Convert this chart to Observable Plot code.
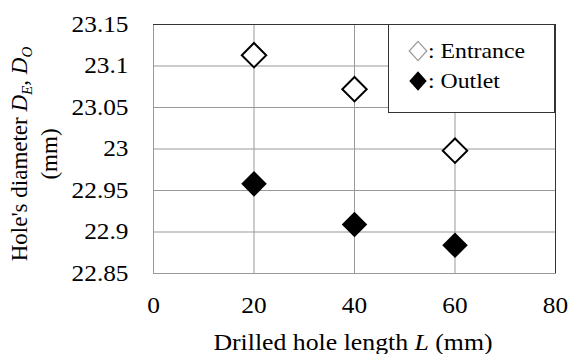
<!DOCTYPE html>
<html>
<head>
<meta charset="utf-8">
<script src="https://cdn.jsdelivr.net/npm/d3@7"></script>
<script src="https://cdn.jsdelivr.net/npm/@observablehq/plot@0.6"></script>
<style>
  html, body { margin: 0; padding: 0; background: white; }
  #chart { width: 570px; height: 354px; overflow: hidden; }
  #chart svg, #chart svg text, #chart svg tspan { font-family: "Liberation Serif", "DejaVu Serif", serif !important; }
</style>
</head>
<body>
<div id="chart"></div>
<script>
const lengths = [20, 40, 60];
const entrance = [23.113, 23.072, 22.998];
const outlet = [22.958, 22.909, 22.884];
const xTicks = [0, 20, 40, 60, 80];
const yTicks = [22.85, 22.9, 22.95, 23, 23.05, 23.1, 23.15];
const yTickLabels = ["22.85", "22.9", "22.95", "23", "23.05", "23.1", "23.15"];
const legendLabels = [": Entrance", ": Outlet"];

const entranceData = lengths.map((L, i) => ({L, D: entrance[i]}));
const outletData = lengths.map((L, i) => ({L, D: outlet[i]}));

const font = "Liberation Serif, DejaVu Serif, serif";

const plot = Plot.plot({
  width: 570,
  height: 354,
  marginLeft: 153,
  marginRight: 15,
  marginTop: 24,
  marginBottom: 81,
  style: {fontFamily: font, fontSize: "23px", color: "#000", background: "white"},
  x: {domain: [0, 80], ticks: xTicks, label: null, tickSize: 0, tickPadding: 23},
  y: {domain: [22.85, 23.15], ticks: yTicks, label: null, tickSize: 0, tickPadding: 25,
      tickFormat: d => yTickLabels[yTicks.indexOf(d)]},
  marks: [
    Plot.gridX(xTicks, {stroke: "#999", strokeOpacity: 1}),
    Plot.gridY(yTicks, {stroke: "#999", strokeOpacity: 1}),
    Plot.frame({stroke: "#999"}),
    Plot.ruleY([23.15], {stroke: "#333"}),
    Plot.ruleX([80], {stroke: "#333"}),
    Plot.dot(entranceData, {x: "L", y: "D", symbol: "diamond2", r: 11, stroke: "black", strokeWidth: 2, fill: "white"}),
    Plot.dot(outletData, {x: "L", y: "D", symbol: "diamond2", r: 11.5, fill: "black", stroke: "none"})
  ]
});

document.getElementById("chart").appendChild(plot);

const svg = d3.select(plot);

function stretch(sel, k) {
  sel.each(function() {
    const w = this.getComputedTextLength();
    if (w > 0) this.setAttribute("textLength", (w * k).toFixed(1)), this.setAttribute("lengthAdjust", "spacingAndGlyphs");
  });
}

// widen tick labels (reference glyphs are wider)
stretch(svg.selectAll("g[aria-label='x-axis tick label'] text, g[aria-label='y-axis tick label'] text"), 1.1);

// Legend
const lg = svg.append("g").attr("text-anchor", "start");
lg.append("rect").attr("x", 388.5).attr("y", 24.5).attr("width", 166).attr("height", 88)
  .attr("fill", "white").attr("stroke", "#333");
const diamond = d3.symbol(d3.symbolDiamond2, 215)();
lg.append("path").attr("d", diamond).attr("transform", "translate(418,51) scale(0.95,1.05)")
  .attr("fill", "white").attr("stroke", "#999").attr("stroke-width", 1.3);
lg.append("path").attr("d", diamond).attr("transform", "translate(418,81) scale(0.95,1.05)")
  .attr("fill", "black");
const lt1 = lg.append("text").attr("x", 428).attr("y", 58).attr("font-size", 22)
  .attr("fill", "#000").text(legendLabels[0]);
const lt2 = lg.append("text").attr("x", 428).attr("y", 88).attr("font-size", 22)
  .attr("fill", "#000").text(legendLabels[1]);
stretch(lt1, 1.08);
stretch(lt2, 1.08);

// Y axis label (two lines)
const yl = svg.append("text").attr("transform", "translate(27,154) rotate(-90)")
  .attr("text-anchor", "middle").attr("font-size", 23).attr("fill", "#000");
yl.append("tspan").text("Hole's diameter ");
yl.append("tspan").attr("font-style", "italic").text("D");
yl.append("tspan").attr("font-size", 15).attr("dy", 5).attr("font-style", "italic").text("E");
yl.append("tspan").attr("dy", -5).text(", ");
yl.append("tspan").attr("font-style", "italic").text("D");
yl.append("tspan").attr("font-size", 15).attr("dy", 5).attr("font-style", "italic").text("O");

svg.append("text").attr("transform", "translate(57,154) rotate(-90)")
  .attr("text-anchor", "middle").attr("font-size", 23).attr("fill", "#000")
  .text("(mm)");

// X axis label
const xl = svg.append("text").attr("x", 353).attr("y", 350).attr("text-anchor", "middle")
  .attr("font-size", 23).attr("fill", "#000");
xl.append("tspan").text("Drilled hole length ");
xl.append("tspan").attr("font-style", "italic").text("L");
xl.append("tspan").text(" (mm)");
stretch(xl, 1.12);
</script>
</body>
</html>
